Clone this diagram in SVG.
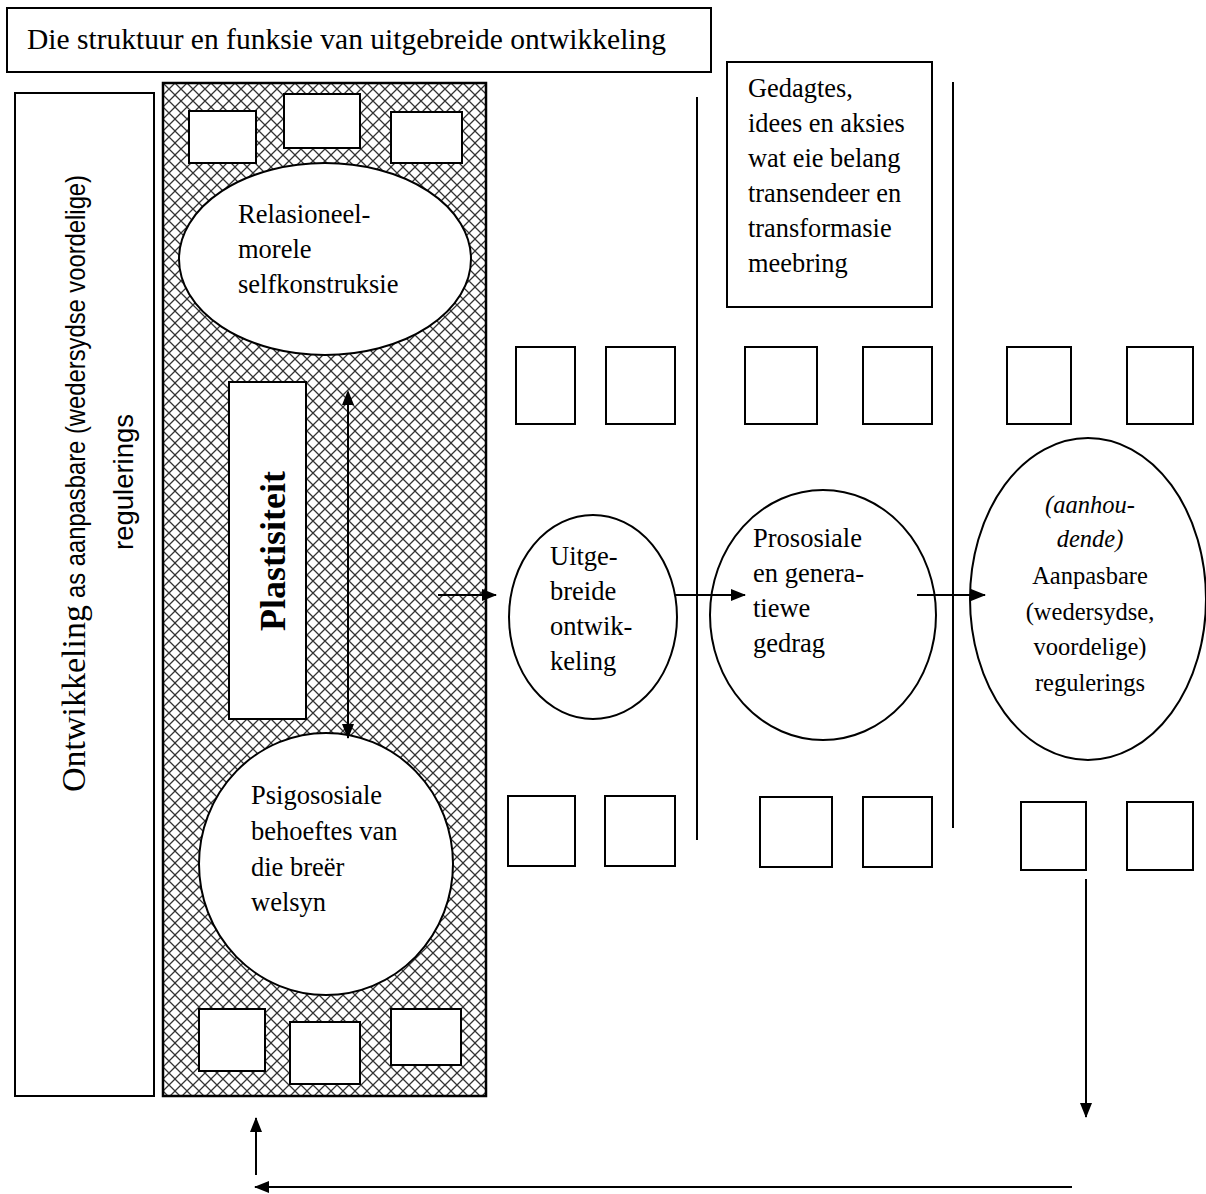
<svg xmlns="http://www.w3.org/2000/svg" width="1206" height="1194" viewBox="0 0 1206 1194">
<style>
.bx{fill:#fff;stroke:#000;stroke-width:2}
.ln{stroke:#000;stroke-width:2;fill:none}
.t{font-family:"Liberation Serif","Times New Roman",serif;fill:#000}
.s{font-family:"Liberation Sans",Arial,sans-serif;fill:#000}
</style>
<defs>
<pattern id="hatch" width="12" height="12" patternUnits="userSpaceOnUse" x="163" y="83">
<rect width="12" height="12" fill="#fff"/>
<path d="M0,0 L12,12 M12,0 L0,12" stroke="#333" stroke-width="1.25"/>
</pattern>
<marker id="ah" markerWidth="15" markerHeight="12" refX="14" refY="6" orient="auto" markerUnits="userSpaceOnUse">
<path d="M0,0 L15,6 L0,12 Z" fill="#000"/>
</marker>
<marker id="ahs" markerWidth="15" markerHeight="12" refX="1" refY="6" orient="auto-start-reverse" markerUnits="userSpaceOnUse">
<path d="M0,0 L15,6 L0,12 Z" fill="#000"/>
</marker>
</defs>
<rect width="1206" height="1194" fill="#fff"/>

<g id="title">
<rect class="bx" x="7" y="8" width="704" height="64"/>
<text class="t" x="27" y="49" font-size="29.5">Die struktuur en funksie van uitgebreide ontwikkeling</text>
</g>

<g id="left-label">
<rect class="bx" x="15" y="93" width="139" height="1003"/>
<text class="t" transform="translate(85,792) rotate(-90)" font-size="34">Ontwikkeling</text>
<text class="s" transform="translate(85,598) rotate(-90)" font-size="27" textLength="423" lengthAdjust="spacingAndGlyphs">as aanpasbare (wedersydse voordelige)</text>
<text class="s" transform="translate(133,550) rotate(-90)" font-size="27" textLength="136" lengthAdjust="spacingAndGlyphs">regulerings</text>
</g>

<g id="hatched-panel">
<rect x="163" y="83" width="323" height="1013" fill="url(#hatch)" stroke="#000" stroke-width="2.5"/>
</g>

<g id="top-boxes">
<rect class="bx" x="189" y="111" width="67" height="52"/>
<rect class="bx" x="284" y="94" width="76" height="54"/>
<rect class="bx" x="391" y="112" width="71" height="51"/>
</g>

<g id="relasioneel">
<ellipse class="bx" cx="325" cy="259" rx="146" ry="96"/>
<text class="t" font-size="26.5"><tspan x="238" y="223">Relasioneel-</tspan><tspan x="238" y="258">morele</tspan><tspan x="238" y="293">selfkonstruksie</tspan></text>
</g>

<g id="plastisiteit">
<rect class="bx" x="229" y="382" width="77" height="337"/>
<text class="t" transform="translate(285,551) rotate(-90)" text-anchor="middle" font-size="36" font-weight="bold">Plastisiteit</text>
</g>

<g id="psigososiale">
<ellipse class="bx" cx="326" cy="864" rx="127" ry="131"/>
<text class="t" font-size="26.5"><tspan x="251" y="804">Psigososiale</tspan><tspan x="251" y="840">behoeftes van</tspan><tspan x="251" y="876">die breër</tspan><tspan x="251" y="911">welsyn</tspan></text>
</g>

<g id="bottom-boxes">
<rect class="bx" x="199" y="1009" width="66" height="62"/>
<rect class="bx" x="290" y="1022" width="70" height="62"/>
<rect class="bx" x="391" y="1009" width="70" height="56"/>
</g>

<g id="gedagtes">
<rect class="bx" x="727" y="62" width="205" height="245"/>
<text class="t" font-size="26.4"><tspan x="748" y="97">Gedagtes,</tspan><tspan x="748" y="132">idees en aksies</tspan><tspan x="748" y="167">wat eie belang</tspan><tspan x="748" y="202">transendeer en</tspan><tspan x="748" y="237">transformasie</tspan><tspan x="748" y="272">meebring</tspan></text>
</g>

<g id="row-top">
<rect class="bx" x="516" y="347" width="59" height="77"/>
<rect class="bx" x="606" y="347" width="69" height="77"/>
<rect class="bx" x="745" y="347" width="72" height="77"/>
<rect class="bx" x="863" y="347" width="69" height="77"/>
<rect class="bx" x="1007" y="347" width="64" height="77"/>
<rect class="bx" x="1127" y="347" width="66" height="77"/>
</g>

<g id="row-bottom">
<rect class="bx" x="508" y="796" width="67" height="70"/>
<rect class="bx" x="605" y="796" width="70" height="70"/>
<rect class="bx" x="760" y="797" width="72" height="70"/>
<rect class="bx" x="863" y="797" width="69" height="70"/>
<rect class="bx" x="1021" y="802" width="65" height="68"/>
<rect class="bx" x="1127" y="802" width="66" height="68"/>
</g>

<g id="uitgebreide">
<ellipse class="bx" cx="593" cy="617" rx="84" ry="102"/>
<text class="t" font-size="26.5"><tspan x="550" y="565">Uitge-</tspan><tspan x="550" y="600">breide</tspan><tspan x="550" y="635">ontwik-</tspan><tspan x="550" y="670">keling</tspan></text>
</g>

<g id="prososiale">
<ellipse class="bx" cx="823" cy="615" rx="113" ry="125"/>
<text class="t" font-size="26.5"><tspan x="753" y="547">Prososiale</tspan><tspan x="753" y="582">en genera-</tspan><tspan x="753" y="617">tiewe</tspan><tspan x="753" y="652">gedrag</tspan></text>
</g>

<g id="aanpasbare">
<ellipse class="bx" cx="1088" cy="599" rx="118" ry="161"/>
<text class="t" font-size="24.5" text-anchor="middle"><tspan x="1090" y="513" font-style="italic">(aanhou-</tspan><tspan x="1090" y="547" font-style="italic">dende)</tspan><tspan x="1090" y="584">Aanpasbare</tspan><tspan x="1090" y="620">(wedersydse,</tspan><tspan x="1090" y="655">voordelige)</tspan><tspan x="1090" y="691">regulerings</tspan></text>
</g>

<g id="connectors">
<line class="ln" x1="697" y1="97" x2="697" y2="840"/>
<line class="ln" x1="953" y1="82" x2="953" y2="828"/>
<line class="ln" x1="348" y1="404" x2="348" y2="738" marker-start="url(#ahs)" marker-end="url(#ah)"/>
<line class="ln" x1="438" y1="595" x2="496" y2="595" marker-end="url(#ah)"/>
<line class="ln" x1="675" y1="595" x2="745" y2="595" marker-end="url(#ah)"/>
<line class="ln" x1="917" y1="595" x2="985" y2="595" marker-end="url(#ah)"/>
<line class="ln" x1="1086" y1="879" x2="1086" y2="1117" marker-end="url(#ah)"/>
<line class="ln" x1="1072" y1="1187" x2="255" y2="1187" marker-end="url(#ah)"/>
<line class="ln" x1="256" y1="1175" x2="256" y2="1118" marker-end="url(#ah)"/>
</g>
</svg>
